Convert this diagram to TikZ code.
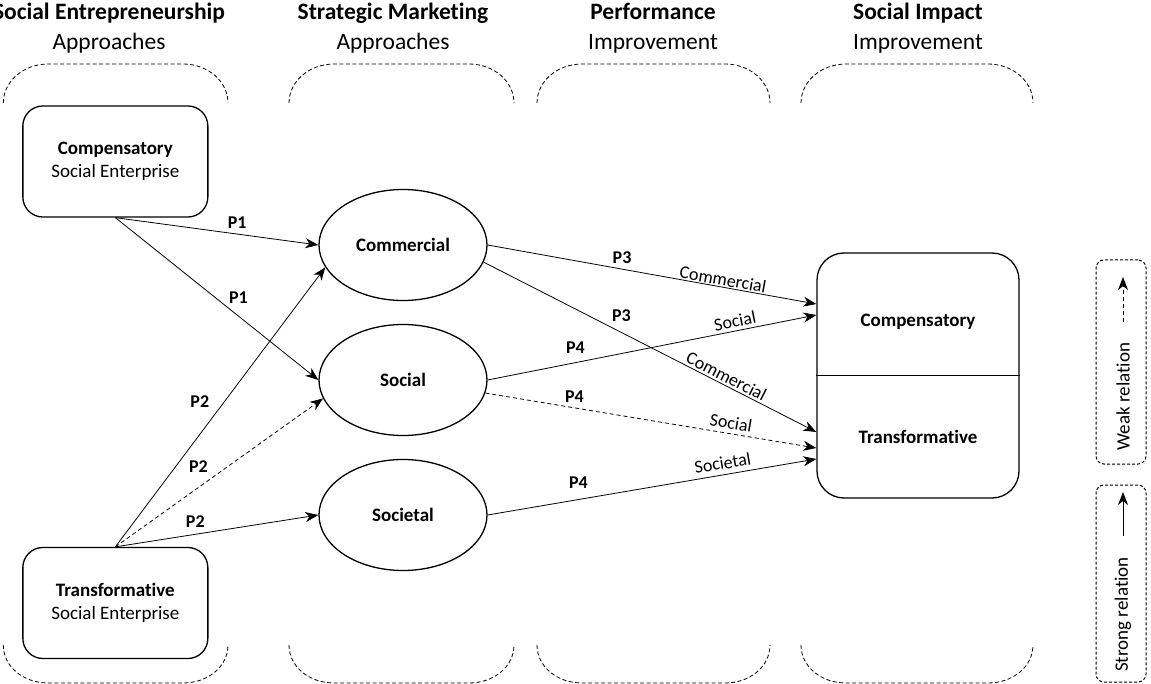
\documentclass[tikz,border=0pt]{standalone}
\usepackage{fontspec}
\setmainfont{Carlito}[Ligatures=NoCommon]
\usetikzlibrary{arrows.meta,shapes.geometric}

\newcommand{\hdrfont}{\fontsize{23.5}{28}\selectfont}
\newcommand{\boxfont}{\fontsize{19}{23}\selectfont}
\newcommand{\labfont}{\fontsize{18}{21}\selectfont}

\tikzset{
  hdrbold/.style={font=\hdrfont\bfseries, anchor=base, inner sep=0pt},
  hdrplain/.style={font=\hdrfont, anchor=base, inner sep=0pt},
  sebox/.style={draw, line width=1.3pt, rounded corners=20pt, minimum width=185pt,
    minimum height=111pt, align=center, font=\boxfont, inner sep=0pt},
  approach/.style={draw, ellipse, line width=1.3pt, minimum width=168pt,
    minimum height=111pt, font=\boxfont\bfseries, inner sep=0pt},
  impactbox/.style={draw, line width=1.3pt, rounded corners=27pt,
    minimum width=202pt, minimum height=245pt},
  impacttext/.style={font=\boxfont\bfseries, inner sep=0pt},
  link/.style={line width=0.8pt, -{Stealth[length=13pt,width=10pt,inset=4pt]}},
  weaklink/.style={link, dash pattern=on 4pt off 3pt},
  plab/.style={font=\labfont\bfseries, inner sep=1pt},
  elab/.style={font=\labfont, inner sep=1pt, sloped},
  bracket/.style={line width=0.8pt, dash pattern=on 4pt off 2.5pt},
  legbox/.style={draw, line width=1pt, dash pattern=on 3pt off 2pt, rounded corners=8pt},
  legtext/.style={font=\boxfont, inner sep=0pt, rotate=90},
}

\begin{document}
\begin{tikzpicture}[x=1pt,y=-1pt]
\useasboundingbox (0,0) rectangle (1151,684);

% column headings
\node[hdrbold]  (h1a) at (109,20)   {Social Entrepreneurship};
\node[hdrplain] (h1b) at (109,49.5) {Approaches};
\node[hdrbold]  (h2a) at (393,20)   {Strategic Marketing};
\node[hdrplain] (h2b) at (393,49.5) {Approaches};
\node[hdrbold]  (h3a) at (653,20)   {Performance};
\node[hdrplain] (h3b) at (653,49.5) {Improvement};
\node[hdrbold]  (h4a) at (918,20)   {Social Impact};
\node[hdrplain] (h4b) at (918,49.5) {Improvement};

% dashed column brackets, top and bottom
\foreach \xa/\xb in {3.3/228, 289/514, 537/770, 801/1033} {
  \draw[bracket] (\xa,103) .. controls (\xa,81.5) and (\xa+20,64) .. (\xa+45,64)
    -- (\xb-45,64) .. controls (\xb-20,64) and (\xb,81.5) .. (\xb,103);
  \draw[bracket] (\xa,645) .. controls (\xa,666.5) and (\xa+20,683) .. (\xa+45,683)
    -- (\xb-45,683) .. controls (\xb-20,683) and (\xb,666.5) .. (\xb,645);
}

% social enterprises
\node[sebox] (compse)  at (115.35,161.5) {\textbf{Compensatory}\\Social Enterprise};
\node[sebox] (transse) at (115.35,603)   {\textbf{Transformative}\\Social Enterprise};

% marketing approaches
\node[approach] (commercial) at (403,245) {Commercial};
\node[approach] (social)     at (403,380) {Social};
\node[approach] (societal)   at (403,515) {Societal};

% social impact
\node[impactbox] (impact) at (918,375.5) {};
\draw[line width=1pt] (impact.west) -- (impact.east);
\node[impacttext] (impcomp)  at (918,322) {Compensatory};
\node[impacttext] (imptrans) at (918,437) {Transformative};

% enterprises -> approaches
\draw[link] (compse.south) -- node[plab, pos=0.6, above=4pt] (p1a) {P1} (commercial.west);
\draw[link] (compse.south) -- node[plab, pos=0.606, above=11pt] (p1b) {P1} (social.west);
\draw[link] (transse.north) -- node[plab, pos=0.52, left=14pt] (p2a) {P2} (commercial.196);
\draw[weaklink] (transse.north) -- node[plab, pos=0.4, above=14pt] (p2b) {P2} (social.193);
\draw[link] (transse.north) -- node[plab, pos=0.394, above=5.5pt] (p2c) {P2} (societal.west);

% approaches -> impact
\draw[link] (commercial.east) --
  node[plab, pos=0.409, above=4pt] (p3a) {P3}
  node[elab, pos=0.712, above] (l1) {Commercial}
  ([yshift=71.5pt]impact.west);
\draw[link] (social.east) --
  node[plab, pos=0.267, above=8pt] (p4a) {P4}
  node[elab, pos=0.758, above=2pt] (l2) {Social}
  ([yshift=60.5pt]impact.west);
\draw[link] (commercial.348) --
  node[plab, pos=0.414, above=9pt] (p3b) {P3}
  node[elab, pos=0.718, above=1pt] (l3) {Commercial}
  ([yshift=-56.5pt]impact.west);
\draw[weaklink] (social.351) --
  node[plab, pos=0.269, above=4pt] (p4b) {P4}
  node[elab, pos=0.737, above=3pt] (l4) {Social}
  ([yshift=-72.5pt]impact.west);
\draw[link] (societal.east) --
  node[plab, pos=0.276, above=10pt] (p4c) {P4}
  node[elab, pos=0.721, above=4pt] (l5) {Societal}
  ([yshift=-83.5pt]impact.west);

% legend
\node[legbox, minimum width=50pt, minimum height=204pt] (weakbox)   at (1121,362)   {};
\node[legbox, minimum width=50pt, minimum height=197pt] (strongbox) at (1121,583.5) {};
\node[legtext] (weaktxt)   at (1123,396.5) {Weak relation};
\node[legtext] (strongtxt) at (1123,614.5) {Strong relation};
\coordinate (wk0) at (1123,322);
\coordinate (wk1) at (1123,277);
\coordinate (st0) at (1123,536);
\coordinate (st1) at (1123,492);
\draw[weaklink] (wk0) -- (wk1);
\draw[link] (st0) -- (st1);
\end{tikzpicture}
\end{document}
